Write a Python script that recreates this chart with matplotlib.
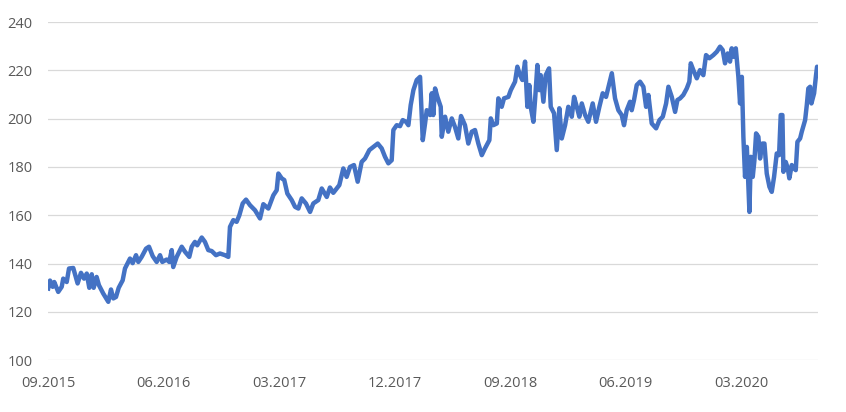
import matplotlib
matplotlib.use("Agg")
import matplotlib.pyplot as plt

# x = months since 09.2015, y = index value
months = [
    0.02, 0.16, 0.37, 0.49, 0.80, 1.07, 1.19, 1.46, 1.64, 1.97, 2.31, 2.57, 2.81, 3.02,
    3.22, 3.41, 3.56, 3.79, 3.97, 4.31, 4.70, 4.91, 5.09, 5.30, 5.51, 5.82, 6.00, 6.39,
    6.60, 6.86, 7.04, 7.30, 7.64, 7.87, 8.16, 8.47, 8.73, 8.91, 9.25, 9.45, 9.64, 9.76,
    10.03, 10.42, 10.68, 11.01, 11.20, 11.45, 11.63, 11.98, 12.23, 12.49, 12.76, 13.09,
    13.40, 13.79, 14.05, 14.18, 14.44, 14.70, 14.91, 15.17, 15.43, 15.74, 16.13, 16.52,
    16.78, 17.17, 17.56, 17.82, 17.95, 18.21, 18.41, 18.65, 18.99, 19.25, 19.51, 19.77,
    20.10, 20.42, 20.67, 21.06, 21.33, 21.72, 21.97, 22.23, 22.70, 23.01, 23.27, 23.53,
    23.84, 24.13, 24.44, 24.70, 25.04, 25.35, 25.69, 26.00, 26.26, 26.52, 26.78, 26.91,
    27.17, 27.43, 27.64, 27.90, 28.08, 28.26, 28.47, 28.73, 28.99, 29.20, 29.38, 29.51,
    29.77, 29.90, 30.02, 30.16, 30.34, 30.60, 30.68, 30.94, 31.19, 31.46, 31.71, 31.97,
    32.18, 32.49, 32.75, 33.02, 33.27, 33.53, 33.80, 34.05, 34.39, 34.50, 34.70, 34.97,
    35.09, 35.35, 35.53, 35.87, 36.06, 36.39, 36.57, 36.78, 36.96, 37.17, 37.35, 37.50,
    37.61, 37.82, 37.95, 38.13, 38.28, 38.39, 38.60, 38.78, 39.04, 39.17, 39.43, 39.64,
    39.84, 40.03, 40.29, 40.54, 40.81, 40.99, 41.20, 41.40, 41.59, 41.85, 42.10, 42.44,
    42.70, 42.96, 43.22, 43.48, 43.74, 43.93, 44.18, 44.44, 44.70, 44.88, 45.09, 45.35,
    45.48, 45.66, 45.87, 46.13, 46.39, 46.60, 46.78, 47.04, 47.38, 47.64, 47.90, 48.16,
    48.34, 48.60, 48.86, 49.04, 49.25, 49.50, 49.77, 49.97, 50.08, 50.28, 50.55, 50.80,
    51.06, 51.27, 51.53, 51.84, 52.11, 52.36, 52.57, 52.75, 52.96, 53.14, 53.27, 53.40,
    53.59, 53.79, 53.92, 54.06, 54.18, 54.31, 54.45, 54.52, 54.65, 54.76, 54.91, 55.04,
    55.17, 55.35, 55.48, 55.66, 55.82, 56.00, 56.21, 56.39, 56.57, 56.78, 56.96, 57.09,
    57.22, 57.30, 57.48, 57.64, 57.76, 57.95, 58.13, 58.26, 58.39, 58.60, 58.73, 58.99,
    59.12, 59.24, 59.38, 59.48, 59.69, 59.84, 59.92, 60.00,
]
values = [
    129.7, 133.0, 130.4, 132.4, 128.3, 130.4, 133.8, 132.4, 138.0, 138.2, 131.8, 136.2, 133.8, 135.9,
    130.0, 135.6, 130.0, 134.5, 131.1, 127.6, 124.2, 129.3, 125.6, 126.2, 130.0, 133.1, 138.0, 142.1,
    140.2, 143.5, 140.7, 142.8, 146.2, 147.0, 143.1, 140.7, 143.5, 140.7, 141.7, 140.7, 145.6, 138.6,
    142.8, 147.0, 144.9, 142.8, 147.0, 149.0, 147.6, 150.8, 149.0, 145.6, 145.2, 143.5,
    144.2, 143.5, 142.8, 155.2, 158.0, 157.3, 160.0, 164.9, 166.5, 164.2, 162.1, 158.7,
    164.6, 162.8, 168.3, 170.4, 177.3, 175.3, 174.6, 169.0, 166.3, 163.5, 162.8, 167.0,
    164.9, 161.4, 164.9, 166.3, 171.1, 167.6, 171.5, 169.3, 172.5, 179.4, 175.9, 180.0,
    180.8, 173.9, 182.1, 183.5, 187.0, 188.3, 189.7, 187.7, 184.2, 181.5, 182.8, 195.3,
    197.3, 196.9, 199.4, 198.7, 197.3, 205.6, 211.8, 216.0, 217.3, 191.1, 198.0, 203.5,
    201.5, 210.5, 201.5, 212.5, 209.0, 204.9, 192.5, 200.8, 194.6, 200.1, 196.6, 191.8,
    201.1, 197.3, 189.7, 194.6, 195.3, 189.7, 184.9, 187.7, 191.1, 200.1, 197.3, 198.0,
    208.4, 204.9, 208.4, 209.0, 211.8, 215.3, 221.5, 218.0, 216.0, 223.6, 204.9, 213.9,
    204.9, 198.7, 207.7, 222.2, 211.8, 218.0, 207.0, 218.0, 220.8, 204.9, 202.2, 187.0,
    204.3, 191.8, 197.3, 204.9, 200.8, 209.0, 204.9, 200.8, 206.3, 201.5, 198.7, 206.3,
    198.7, 204.9, 210.5, 209.0, 214.6, 218.8, 208.4, 203.5, 201.5, 197.3, 203.5, 207.0,
    203.5, 207.7, 213.9, 215.3, 213.2, 204.9, 209.8, 198.0, 196.0, 199.4, 200.8, 206.3,
    213.2, 209.0, 202.8, 207.7, 208.4, 209.8, 212.5, 215.3, 222.9, 220.1, 216.7, 220.1,
    218.0, 226.3, 225.0, 226.3, 227.7, 229.8, 228.4, 222.9, 227.0, 223.6, 229.1, 225.6,
    229.1, 217.3, 206.3, 217.3, 192.5, 175.9, 188.3, 178.7, 161.4, 184.2, 175.9, 182.8,
    193.9, 192.5, 183.5, 189.7, 189.7, 177.3, 171.8, 169.7, 175.9, 185.6, 184.9, 201.5,
    201.5, 178.0, 182.1, 179.4, 175.3, 180.8, 179.4, 178.7, 190.4, 191.8, 194.6, 199.4,
    205.6, 212.5, 213.2, 206.3, 210.5, 218.0, 221.5, 220.5,
]

tick_months = [0, 9, 18, 27, 36, 45, 54]
tick_labels = ["09.2015", "06.2016", "03.2017", "12.2017", "09.2018", "06.2019", "03.2020"]
y_ticks = [100, 120, 140, 160, 180, 200, 220, 240]

plt.rcParams["font.family"] = ["Open Sans", "DejaVu Sans"]

fig = plt.figure(figsize=(8.46, 4.12), dpi=100)
ax = fig.add_axes([0.0567, 0.1255, 0.9103, 0.8211])

ax.plot(months, values, color="#4472C4", linewidth=3.2, solid_joinstyle="round")

ax.set_xlim(0, 60)
ax.set_ylim(100, 240)
ax.set_yticks(y_ticks)
ax.set_xticks(tick_months)
ax.set_xticklabels(tick_labels)

ax.grid(axis="y", color="#D9D9D9", linewidth=0.9)
ax.set_axisbelow(True)
for s in ax.spines.values():
    s.set_visible(False)
ax.tick_params(length=0, labelsize=10.5, labelcolor="#595959")
ax.tick_params(axis="x", pad=11)
ax.tick_params(axis="y", pad=11)

fig.savefig("out.png", dpi=100)
